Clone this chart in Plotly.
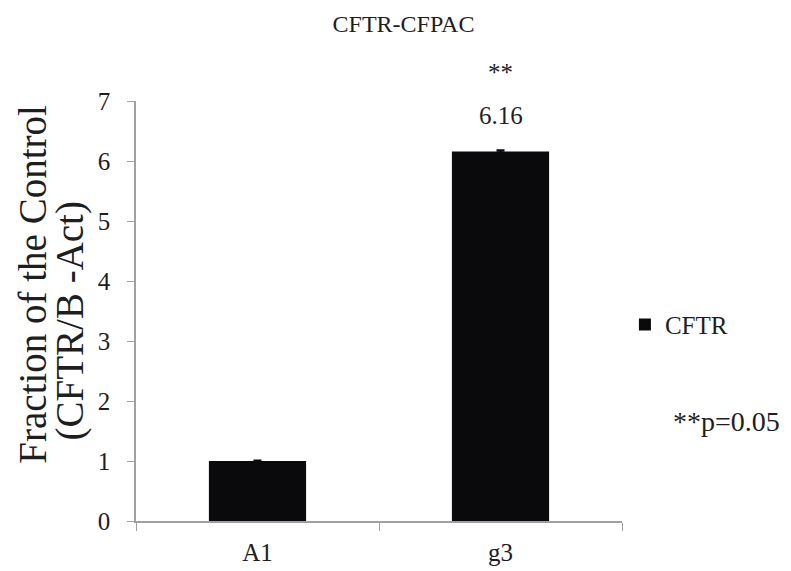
import plotly.graph_objects as go

categories = ["A1", "g3"]
values = [1.0, 6.16]
errors = [0.01, 0.02]
value_labels = ["", "6.16"]
sig_labels = ["", "**"]
series_name = "CFTR"
title_text = "CFTR-CFPAC"
y_title_lines = ["Fraction of the Control", "(CFTR/B -Act)"]
note_text = "**p=0.05"

FONT = "Liberation Serif, Times New Roman, serif"
TXT = "#1e1e1e"

fig = go.Figure()
fig.add_trace(go.Bar(
    x=categories, y=values, name=series_name,
    marker=dict(color="#0a0a0c", line=dict(color="#0a0a0c", width=0)),
    width=0.4,
    error_y=dict(type="data", array=errors, color="#0a0a0c", thickness=2, width=4),
    showlegend=True,
))

for c, v, lab, sig in zip(categories, values, value_labels, sig_labels):
    if lab:
        fig.add_annotation(x=c, y=v, text=lab, showarrow=False, yshift=36,
                           font=dict(family=FONT, size=25, color=TXT))
    if sig:
        fig.add_annotation(x=c, y=v, text=sig, showarrow=False, yshift=79,
                           font=dict(family=FONT, size=25, color=TXT))

# y-axis title (two lines, rotated)
fig.add_annotation(xref="paper", yref="paper", x=-0.212, y=0.565, text=y_title_lines[0],
                   textangle=-90, showarrow=False, xanchor="center", yanchor="middle",
                   font=dict(family=FONT, size=39, color=TXT))
fig.add_annotation(xref="paper", yref="paper", x=-0.135, y=0.476, text=y_title_lines[1],
                   textangle=-90, showarrow=False, xanchor="center", yanchor="middle",
                   font=dict(family=FONT, size=39, color=TXT))

fig.add_annotation(xref="paper", yref="paper", x=1.10, y=0.236, text=note_text,
                   showarrow=False, xanchor="left", yanchor="middle",
                   font=dict(family=FONT, size=28, color=TXT))

fig.update_layout(
    width=791, height=571,
    margin=dict(l=128, r=177, t=93, b=58),
    paper_bgcolor="white", plot_bgcolor="white",
    title=dict(text=title_text, xref="container", x=0.5, xanchor="center",
               yref="container", y=0.972, yanchor="middle",
               font=dict(family=FONT, size=24, color=TXT)),
    showlegend=True,
    legend=dict(x=1.006, y=0.467, xanchor="left", yanchor="middle",
                font=dict(family=FONT, size=25, color=TXT),
                itemwidth=30, bgcolor="rgba(0,0,0,0)"),
    font=dict(family=FONT, color=TXT),
)
fig.update_xaxes(
    showline=True, linecolor="#a0a0a0", linewidth=1.5,
    ticks="outside", tickson="boundaries", ticklen=8, tickcolor="#a0a0a0",
    tickfont=dict(family=FONT, size=25, color=TXT),
    ticklabelstandoff=8,
    showgrid=False,
)
fig.update_yaxes(
    range=[0, 7], dtick=1,
    showline=True, linecolor="#a0a0a0", linewidth=1.5,
    ticks="outside", ticklen=7, tickcolor="#a0a0a0",
    tickfont=dict(family=FONT, size=25, color=TXT),
    ticklabelstandoff=12,
    showgrid=False, zeroline=False,
)

fig.write_html("out.html")
